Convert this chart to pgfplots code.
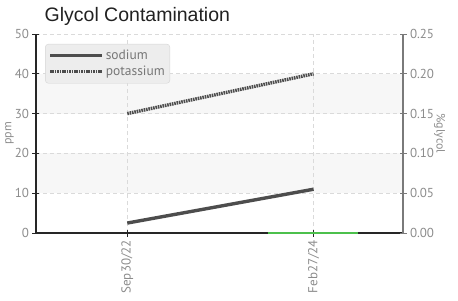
\documentclass[border=0pt]{standalone}
\usepackage{pgfplots}
\pgfplotsset{compat=1.18}
\usepackage{fontspec}
\setmainfont{Liberation Sans}
\newfontfamily\tickfont{PT Sans}
\definecolor{linegray}{HTML}{4D4D4D}
\definecolor{ticktext}{HTML}{8C8C8C}
\definecolor{band}{HTML}{F7F7F7}
\definecolor{gridc}{HTML}{DADADA}
\definecolor{legfill}{HTML}{EDEDED}
\definecolor{legdraw}{HTML}{D5D5D5}
\definecolor{rightaxis}{HTML}{7A7A7A}
\definecolor{greenline}{HTML}{4CC04C}
\begin{document}
\begin{tikzpicture}[x=1pt,y=1pt]
\useasboundingbox (-36,-67) rectangle (422,233);
\pgfplotsset{
  common/.style={
    scale only axis, width=367pt, height=199pt,
    at={(0,0)}, anchor=south west,
    xmin=-0.49, xmax=1.48,
    tick label style={font=\tickfont\fontsize{13}{13}\selectfont, text=ticktext},
    label style={font=\tickfont\fontsize{12}{12}\selectfont, text=ticktext},
    major tick length=7pt, tick align=center,
    /pgf/number format/assume math mode=true,
  }
}
\begin{axis}[common, hide axis, ymin=0, ymax=50]
\addplot[band, line width=39.8pt] coordinates {(-0.49,15) (1.48,15)};
\addplot[band, line width=39.8pt] coordinates {(-0.49,35) (1.48,35)};
\end{axis}
\begin{axis}[common,
  ymin=0, ymax=50,
  axis y line*=left, axis x line*=bottom,
  axis line style={draw=black!85, line width=1.3pt},
  tick style={draw=black!85, line width=1pt},
  ytick={0,10,20,30,40,50},
  xtick={0,1}, xticklabels={Sep30/22,Feb27/24},
  x tick label style={rotate=90, anchor=east},
  grid=major, major grid style={gridc, dash pattern=on 4pt off 3pt, line width=0.8pt},
  ylabel={ppm},
  ylabel style={at={(axis description cs:-0.072,0.5)}, anchor=center},
  title={Glycol Contamination},
  title style={font=\fontsize{19.5}{19.5}\selectfont, text=black!87, at={(axis description cs:0.014,1.035)}, anchor=base west},
  legend style={at={(axis description cs:0.025,0.95)}, anchor=north west,
    fill=legfill, draw=legdraw, rounded corners=3pt,
    font=\tickfont\fontsize{13.5}{13.5}\selectfont, text=ticktext!85!black,
    inner xsep=3pt, inner ysep=4pt, row sep=1pt},
  legend cell align=left,
  legend image code/.code={\draw[#1] (0pt,0pt) -- (52pt,0pt);},
]
\addplot[linegray, line width=3.4pt] coordinates {(0,2.5) (1,11)};
\addlegendentry{sodium}
\addplot[linegray, line width=3.4pt, dash pattern=on 1.6pt off 0.8pt] coordinates {(0,30) (1,40)};
\addlegendentry{potassium}
\end{axis}
\begin{axis}[common,
  ymin=0, ymax=0.25,
  axis y line*=right, axis x line=none,
  axis line style={draw=rightaxis, line width=2.4pt},
  tick style={draw=rightaxis, line width=1pt},
  ytick={0,0.05,0.10,0.15,0.20,0.25},
  yticklabel style={/pgf/number format/fixed, /pgf/number format/precision=2, /pgf/number format/fixed zerofill},
  ylabel={\%glycol},
  ylabel style={at={(axis description cs:1.1,0.5)}, anchor=center, rotate=180},
  clip=false,
]
\addplot[greenline, line width=1.6pt] coordinates {(0.753,0) (1.237,0)};
\end{axis}
\end{tikzpicture}
\end{document}
